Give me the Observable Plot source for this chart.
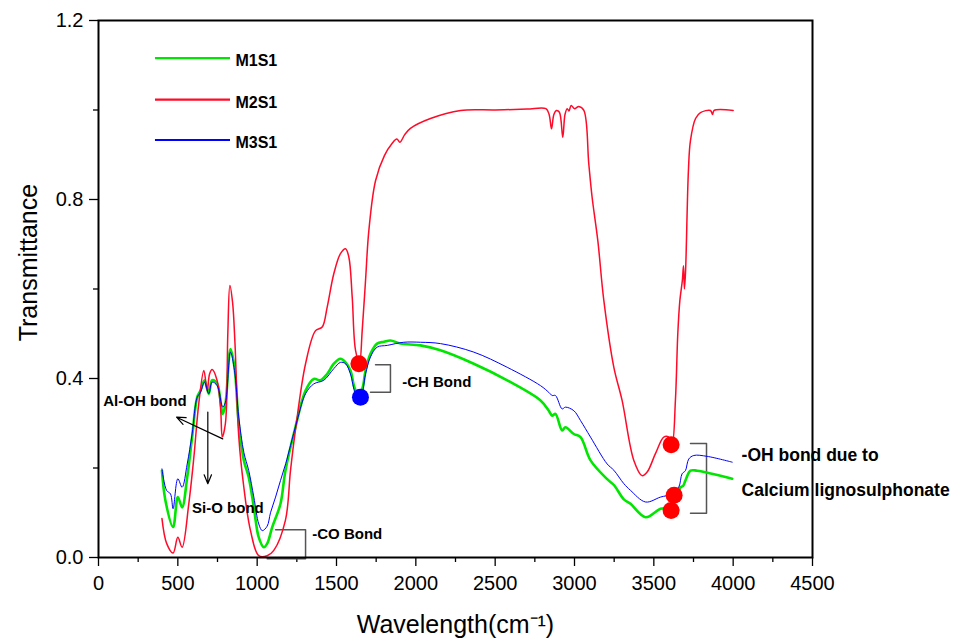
<!DOCTYPE html>
<html><head><meta charset="utf-8">
<script src="https://cdn.jsdelivr.net/npm/d3@7"></script>
<script src="https://cdn.jsdelivr.net/npm/@observablehq/plot@0.6"></script>
<style>body{margin:0;background:#fff}</style>
</head><body><div id="chart"></div>
<script>
// ---- data ----
const wnM1 = [400,422,470,500,527,559,590,622,643,668,695,716,748,783,800,832,857,884,916,947,979,1010,1042,1063,1095,1147,1178,1241,1305,1357,1399,1441,1483,1525,1557,1588,1613,1640,1665,1683,1714,1756,1800,1840,1903,2029,2155,2365,2576,2786,2838,2859,2880,2922,2943,2996,3038,3101,3206,3248,3311,3353,3448,3542,3605,3668,3685,3699,3731,3773,3994];
const tM1 = [0.194,0.127,0.068,0.135,0.112,0.179,0.269,0.358,0.373,0.396,0.366,0.396,0.388,0.321,0.343,0.466,0.425,0.299,0.217,0.179,0.112,0.045,0.023,0.031,0.068,0.12,0.194,0.291,0.373,0.399,0.396,0.41,0.433,0.444,0.436,0.418,0.38,0.362,0.38,0.418,0.455,0.478,0.482,0.485,0.478,0.474,0.463,0.433,0.396,0.351,0.328,0.317,0.321,0.284,0.291,0.276,0.269,0.217,0.175,0.162,0.13,0.12,0.09,0.109,0.112,0.157,0.16,0.172,0.194,0.194,0.176];

const wnM2 = [400,430,470,500,527,569,601,632,664,685,700,716,748,770,780,800,815,828,845,860,884,916,958,1010,1063,1105,1178,1210,1241,1305,1368,1410,1441,1483,1525,1557,1578,1599,1620,1645,1662,1683,1704,1746,1802,1850,1880,1900,1930,1966,2092,2282,2500,2700,2820,2840,2855,2870,2886,2905,2926,2940,2954,2965,2979,3000,3027,3059,3090,3111,3147,3185,3248,3300,3374,3426,3458,3510,3563,3594,3615,3636,3651,3664,3680,3687,3693,3700,3718,3731,3763,3794,3857,3870,3880,4000];
const tM2 = [0.087,0.031,0.010,0.045,0.023,0.12,0.224,0.344,0.418,0.373,0.41,0.42,0.395,0.33,0.269,0.30,0.50,0.608,0.57,0.48,0.27,0.157,0.06,0.004,0.004,0.016,0.083,0.194,0.284,0.433,0.507,0.515,0.559,0.634,0.679,0.69,0.671,0.582,0.463,0.436,0.507,0.619,0.731,0.842,0.898,0.925,0.935,0.928,0.945,0.959,0.981,0.999,1.0,1.002,1.003,0.99,0.958,0.99,0.999,0.995,0.939,0.99,1.003,0.998,1.01,1.003,1.008,0.999,0.88,0.805,0.708,0.574,0.425,0.351,0.217,0.183,0.191,0.232,0.269,0.269,0.254,0.351,0.5,0.574,0.62,0.652,0.60,0.64,0.865,0.932,0.981,0.994,0.999,0.99,0.999,0.999];

const wnM3 = [400,429,454,470,500,527,559,590,622,643,668,695,716,748,783,800,832,857,884,916,947,979,1010,1032,1063,1084,1116,1147,1180,1210,1252,1305,1357,1420,1483,1525,1557,1588,1620,1651,1683,1714,1756,1820,1924,2029,2155,2365,2576,2786,2838,2859,2880,2922,2943,2996,3038,3101,3206,3248,3311,3353,3448,3542,3615,3657,3678,3699,3720,3752,3836,3994];
const tM3 = [0.198,0.15,0.142,0.109,0.176,0.157,0.209,0.276,0.358,0.369,0.392,0.366,0.392,0.384,0.336,0.347,0.459,0.418,0.314,0.235,0.194,0.135,0.075,0.06,0.07,0.1,0.135,0.172,0.21,0.25,0.306,0.366,0.388,0.396,0.422,0.436,0.433,0.41,0.366,0.355,0.41,0.448,0.47,0.474,0.481,0.481,0.478,0.459,0.425,0.384,0.369,0.362,0.362,0.332,0.336,0.328,0.306,0.269,0.209,0.195,0.165,0.15,0.124,0.135,0.142,0.157,0.187,0.194,0.22,0.228,0.226,0.213];

const seriesNames = ["M1S1", "M2S1", "M3S1"];
const xTicks = [0,500,1000,1500,2000,2500,3000,3500,4000,4500];
const xMinor = [250,750,1250,1750,2250,2750,3250,3750,4250];
const yTicks = [0,0.4,0.8,1.2];
const yMinor = [0.2,0.6,1.0];

// marked peaks (wavenumber, transmittance, colour)
const peakX = [1641,1651,3609,3628,3609];
const peakY = [0.433,0.358,0.252,0.139,0.105];
const peakC = ["red","blue","red","red","red"];

// annotation texts
const noteText = ["Al-OH bond","Si-O bond","-CO Bond","-CH Bond","-OH bond due to","Calcium lignosulphonate"];
const noteX = [30,590,1347,1914,4053,4053];
const noteY = [0.349,0.111,0.053,0.392,0.228,0.150];
const noteSize = [15,15,15,15,17.5,17.5];

// annotation arrows
const arrowX1 = [783,689], arrowY1 = [0.265,0.325];
const arrowX2 = [492,689], arrowY2 = [0.3135,0.165];

// brackets
const brackets = [
  [[1116,0.062],[1305,0.062],[1305,-0.003],[1063,-0.003]],
  [[1746,0.431],[1840,0.431],[1840,0.369],[1714,0.369]],
  [[3731,0.255],[3832,0.255],[3832,0.099],[3731,0.099]]
];

// legend placement (data units)
const legendX1 = 359, legendX2 = 832, legendTextX = 863;
const legendY = [1.116,1.023,0.933];

// ---- build ----
const colors = {"M1S1":"#00e600","M2S1":"#ff0a28","M3S1":"#0000ff"};
const widths = {"M1S1":2.6,"M2S1":1.5,"M3S1":1.0};
const rows = (xs, ys, s) => xs.map((x,i)=>({x, y: ys[i], s}));
const series = [rows(wnM1,tM1,"M1S1"), rows(wnM2,tM2,"M2S1"), rows(wnM3,tM3,"M3S1")];
const peaks = peakX.map((x,i)=>({x, y: peakY[i], c: peakC[i]}));
const notes = noteText.map((t,i)=>({t, x: noteX[i], y: noteY[i], size: noteSize[i]}));
const arrows = arrowX1.map((x,i)=>({x1:x, y1:arrowY1[i], x2:arrowX2[i], y2:arrowY2[i]}));
const bracketRows = brackets.flatMap((b,k)=>b.map(([x,y])=>({x,y,k})));
const legendRows = seriesNames.map((s,i)=>({s, y: legendY[i]}));

const marks = [
  Plot.axisX(xMinor, {tickSize: 5, text: null, label: null, strokeWidth: 1.3}),
  Plot.axisY(yMinor, {tickSize: 5, text: null, label: null, strokeWidth: 1.3}),
  Plot.axisX(xTicks, {tickSize: 9, tickPadding: 9, fontSize: 20, label: null, strokeWidth: 1.3, tickFormat: d => String(d)}),
  Plot.axisY(yTicks, {tickSize: 9, tickPadding: 6, fontSize: 20, label: null, strokeWidth: 1.3, tickFormat: d3.format(".1f")}),
  Plot.line(bracketRows, {x: "x", y: "y", z: "k", stroke: "#555", strokeWidth: 1.5, curve: "linear"}),
  ...series.map(d => Plot.line(d, {x: "x", y: "y", stroke: colors[d[0].s], strokeWidth: widths[d[0].s], curve: "catmull-rom"})),
  Plot.dot(peaks, {x: "x", y: "y", r: 8.5, fill: d => d.c === "red" ? "#ff0000" : "#0000ff", stroke: "none"}),
  Plot.arrow(arrows, {x1: "x1", y1: "y1", x2: "x2", y2: "y2", stroke: "black", strokeWidth: 1.2, headLength: 12, headAngle: 45}),
  ...notes.map(n => Plot.text([n], {x: "x", y: "y", text: "t", textAnchor: "start", fontSize: n.size, fontWeight: "bold", fill: "black"})),
  Plot.ruleY(legendRows, {y: "y", x1: () => legendX1, x2: () => legendX2, stroke: d => colors[d.s], strokeWidth: 2.2}),
  Plot.text(legendRows, {x: () => legendTextX, y: "y", dy: 3, text: "s", textAnchor: "start", fontSize: 16, fontWeight: "bold", fill: "black"}),
  Plot.text(["Transmittance"], {x: () => -441, y: () => 0.659, rotate: -90, textAnchor: "middle", fontSize: 25, fill: "black"}),
  Plot.text(["Wavelength(cm\u207B\u00B9)"], {frameAnchor: "bottom", x: () => 2250, dy: 75, textAnchor: "middle", fontSize: 25, fill: "black"}),
  Plot.frame({stroke: "black", strokeWidth: 2})
];

const chart = Plot.plot({
  width: 962, height: 643,
  marginTop: 20, marginRight: 150, marginBottom: 86, marginLeft: 98,
  x: {domain: [0, 4500], axis: null},
  y: {domain: [0, 1.2], axis: null},
  style: {fontFamily: "'Liberation Sans', Arial, sans-serif", background: "white", overflow: "visible", color: "black"},
  marks
});
document.getElementById("chart").append(chart);
</script></body></html>
